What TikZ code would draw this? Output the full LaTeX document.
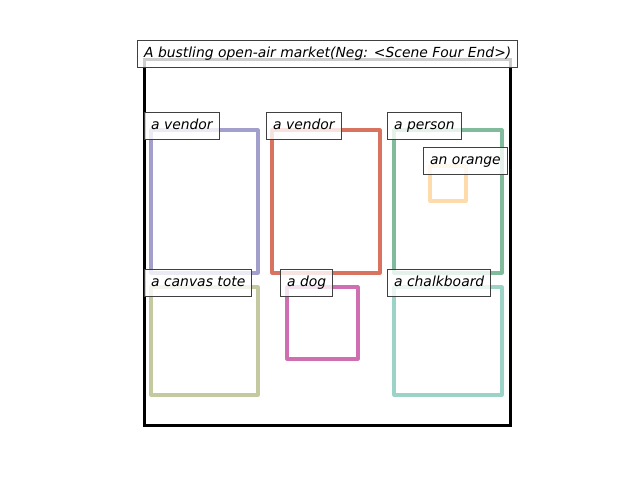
\documentclass[tikz,border=0pt]{standalone}
\usepackage{fontspec}
\setmainfont{DejaVu Sans}
\begin{document}
\begin{tikzpicture}[x=1pt,y=-1pt,
  lbl/.style={draw=black!75, line width=1.2pt, fill=white, fill opacity=0.8, text opacity=1,
    anchor=north west, inner xsep=6.5pt, inner ysep=6.25pt, text height=11pt, text depth=3.5pt,
    font=\fontsize{13.9}{16}\selectfont\itshape},
  obj/.style={line width=3.1pt, line join=round}]
\useasboundingbox (0,0) rectangle (640,480);
\definecolor{cpur}{HTML}{A39FCC}
\definecolor{cred}{HTML}{D8735F}
\definecolor{cgrn}{HTML}{80BC9C}
\definecolor{corg}{HTML}{FDDBAA}
\definecolor{coli}{HTML}{C4C9A0}
\definecolor{cmag}{HTML}{CF6EB0}
\definecolor{ctea}{HTML}{9BD4C6}
\draw[line width=3pt] (144,59) rectangle (510,425);
\draw[obj, cpur] (151,130) rectangle (258,273);
\draw[obj, cred] (272,130) rectangle (380,273);
\draw[obj, cgrn] (394,130) rectangle (502,273);
\draw[obj, corg] (430,166) rectangle (466,201);
\draw[obj, coli] (151,287) rectangle (258,395);
\draw[obj, cmag] (287,287) rectangle (358,359);
\draw[obj, ctea] (394,287) rectangle (502,395);
\node[lbl] (title) at (137,40) {A bustling open-air market(Neg: <Scene Four End>)};
\node[lbl] (l1) at (144,112) {a vendor};
\node[lbl] (l2) at (266,112) {a vendor};
\node[lbl] (l3) at (387,112) {a person};
\node[lbl] (l4) at (423,147) {an orange};
\node[lbl] (l5) at (144,269) {a canvas tote};
\node[lbl] (l6) at (280,269) {a dog};
\node[lbl] (l7) at (387,269) {a chalkboard};
\end{tikzpicture}
\end{document}
